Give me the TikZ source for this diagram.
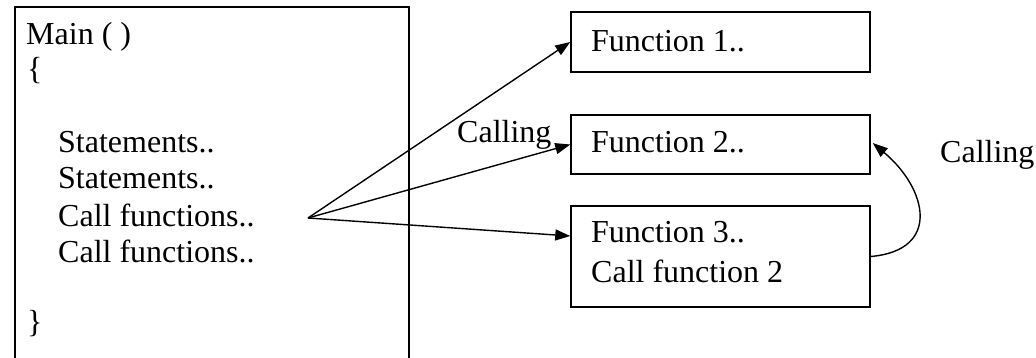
\documentclass[tikz,border=0pt]{standalone}
\usepackage{fontspec}
\setmainfont{Liberation Serif}
\usetikzlibrary{arrows.meta,calc}
\begin{document}
\begin{tikzpicture}[x=1pt,y=-1pt,
  box/.style={draw, line width=1.5pt, inner sep=0pt},
  txt/.style={anchor=base west, inner sep=0pt, font=\fontsize{32}{36}\selectfont},
  call/.style={line width=1.4pt, -{Triangle[length=15pt,width=11pt]}}]
  \clip (0,0) rectangle (1036,358);
  \useasboundingbox (0,0) rectangle (1036,358);

  % main program block (runs off the bottom edge)
  \node[box, minimum width=394pt, minimum height=373pt] (main) at (212,193.5) {};
  \node[txt] (l1) at (26,45)  {Main ( )};
  \node[txt] (l2) at (27,80)  {\{};
  \node[txt] (l3) at (58,153) {Statements..};
  \node[txt] (l4) at (58,189) {Statements..};
  \node[txt] (l5) at (58,226) {Call functions..};
  \node[txt] (l6) at (58,262) {Call functions..};
  \node[txt] (l7) at (27,332) {\}};

  % called functions
  \node[box, minimum width=299pt, minimum height=60pt]  (f1) at (720.5,42) {};
  \node[box, minimum width=299pt, minimum height=59pt]  (f2) at (720.5,144.5) {};
  \node[box, minimum width=299pt, minimum height=101pt] (f3) at (720.5,256.5) {};
  \node[txt] (t1) at (591,52)  {Function 1..};
  \node[txt] (t2) at (591,153) {Function 2..};
  \node[txt] (t3) at (591,243) {Function 3..};
  \node[txt] (t4) at (591,282) {Call function 2};

  % call arrows
  \coordinate (hub) at (308,218);
  \draw[call] (hub) -- (f1.west);
  \draw[call] (hub) -- (f2.west);
  \draw[call] (hub) -- ($(f3.north west)!0.3!(f3.south west)$);
  \draw[call] (f3.east) to[out=5,in=-40,looseness=1.6] ($(f2.east)+(2,-1.5)$);

  \node[txt] (c1) at (457,143) {Calling};
  \node[txt] (c2) at (940,163) {Calling};
\end{tikzpicture}
\end{document}
